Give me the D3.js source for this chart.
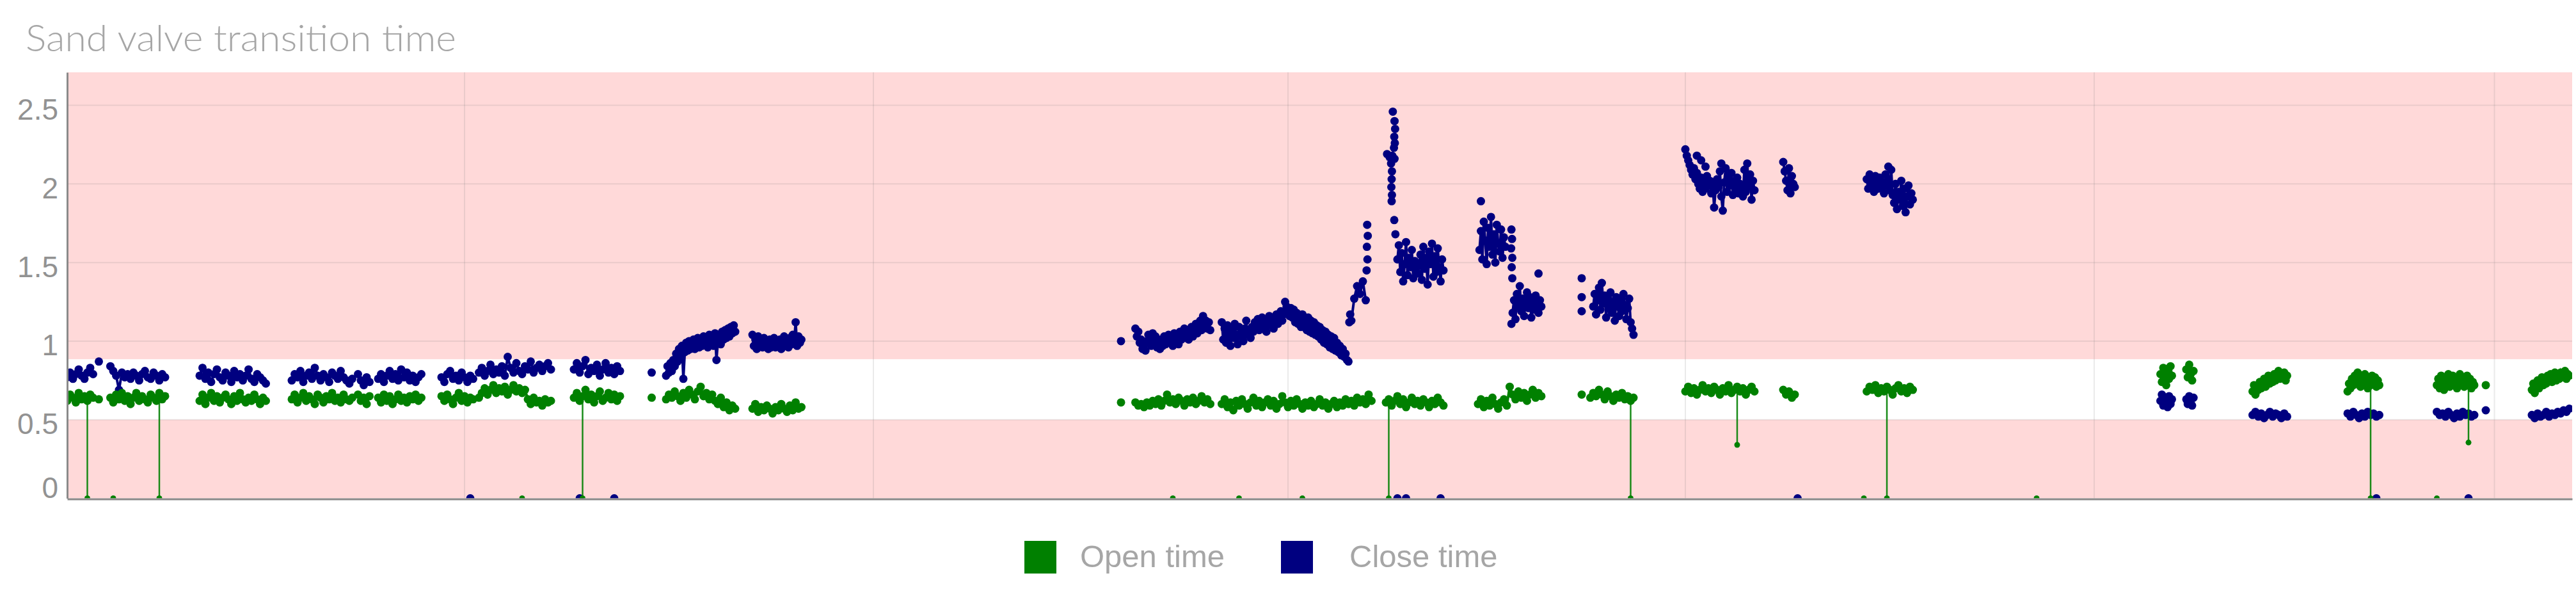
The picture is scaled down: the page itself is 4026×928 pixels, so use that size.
<!DOCTYPE html>
<html><head><meta charset="utf-8">
<script src="https://cdn.jsdelivr.net/npm/d3@7"></script>
<style>html,body{margin:0;padding:0;background:#fff;overflow:hidden}svg{display:block}</style>
</head><body>
<svg id="chart" width="4026" height="928"></svg>
<script>
// ---------------- data ----------------
const chartTitle = "Sand valve transition time";
const seriesNames = ["Open time", "Close time"];
const seriesColors = ["#008000", "#000080"];
const yTicks = [0, 0.5, 1, 1.5, 2, 2.5];
const yLabels = ["0", "0.5", "1", "1.5", "2", "2.5"];
const xTickHours = [138, 280, 424, 562, 704, 843];
const okBandLow = 0.5, okBandHigh = 0.885;
const hourRange = [0, 870];
const valueRange = [0, 2.71];

// runs of readings: [start hour, hours between readings, values]
const openRuns = [
  [0, 1, [0.62,0.66,0.64,0.61,0.67,0.63,0.65,0.62,0.66,0.64]],
  [15, 1, [0.64,0.61,0.66,0.63,0.67,0.62,0.65,0.60,0.64,0.67,0.62,0.65,0.63,0.61,0.66,0.64,0.62,0.67,0.63,0.65]],
  [46, 1, [0.62,0.66,0.60,0.64,0.67,0.62,0.65,0.61,0.64,0.66,0.63,0.60,0.65,0.62,0.67,0.63,0.61,0.64,0.62,0.66,0.63,0.60,0.64,0.62]],
  [78, 1, [0.63,0.66,0.61,0.64,0.67,0.62,0.65,0.63,0.60,0.66,0.64,0.61,0.65,0.63,0.67,0.62,0.64,0.61,0.66,0.63,0.62,0.64]],
  [101, 1, [0.66,0.62,0.64,0.60,0.65]],
  [108, 1, [0.64,0.61,0.66,0.62,0.65,0.60,0.63,0.66,0.62,0.64,0.61,0.65,0.63,0.66,0.62,0.64]],
  [130, 1, [0.65,0.62,0.66,0.63,0.60,0.64,0.67,0.62,0.65,0.61,0.64,0.63]],
  [143, 1, [0.64,0.67,0.70,0.66,0.69,0.72,0.67,0.70,0.68,0.71,0.66,0.69,0.72,0.68,0.70,0.67,0.69,0.63,0.60,0.64,0.61,0.62,0.59,0.63,0.61,0.62]],
  [176, 1, [0.64,0.67,0.62,0.65,0.69,0.63,0.66,0.61,0.65,0.68,0.62,0.64,0.67,0.63,0.66,0.62,0.65]],
  [208, 1, [0.63,0.66,0.64,0.68,0.65,0.62,0.67,0.64,0.69,0.66,0.63,0.68,0.71,0.65,0.67,0.63,0.66,0.62,0.60,0.64,0.58,0.61,0.56,0.59,0.57]],
  [238, 1, [0.57,0.60,0.55,0.58,0.56,0.59,0.57,0.54,0.58,0.56,0.60,0.57,0.55,0.59,0.56,0.61,0.57,0.58]],
  [371, 1, [0.61,0.59,0.60,0.58,0.61,0.59,0.62,0.60,0.63,0.59,0.62,0.66,0.61,0.63,0.60,0.64,0.62,0.59,0.63,0.61,0.64,0.60,0.62,0.65,0.61,0.63,0.60]],
  [401, 1, [0.60,0.63,0.58,0.61,0.56,0.62,0.59,0.63,0.60,0.57,0.61,
            0.64,0.59,0.62,0.58,0.61,0.63,0.59,0.62,0.57,0.60,0.65,0.61,
            0.58,0.62,0.59,0.63,0.60,0.57,0.61,0.59,0.62,0.58,0.60,0.63,
            0.59,0.61,0.57,0.60,0.62,0.58,0.61,0.59,0.63,0.60,0.62,0.59,
            0.64,0.61,0.63,0.60,0.66,0.62]],
  [458, 1, [0.61,0.63,0.59,0.62,0.65,0.60,0.63,0.58,0.61,0.64,0.60,0.62,0.59,0.63,0.61,0.58,0.62,0.60,0.64,0.61,0.59]],
  [490, 1, [0.60,0.63,0.58,0.62,0.59,0.64,0.60,0.57,0.61,0.63,0.59,0.71,0.66,0.63,0.68,0.64,0.67,0.62,0.66,0.69,0.64,0.67,0.65]],
  [529, 1, [0.64,0.67,0.65,0.69,0.66,0.63,0.68,0.65,0.62,0.66,0.64,0.67,0.63,0.65,0.62,0.64]],
  [562, 1, [0.68,0.71,0.67,0.70,0.66,0.69,0.72,0.68,0.70,0.67,0.71,0.69,0.66,0.70,0.68,0.72,0.67,0.69,0.71,0.68,0.70,0.66,0.69,0.71,0.68]],
  [596, 1, [0.69,0.66,0.68,0.64,0.66]],
  [625, 1, [0.68,0.71,0.69,0.72,0.67,0.70,0.68,0.71,0.69,0.66,0.70,0.72,0.68,0.70,0.67,0.71,0.69]],
  [727, 0.5, [0.79,0.74,0.83,0.77,0.72,0.81,0.76,0.84,0.78]],
  [736, 0.5, [0.82,0.77,0.85,0.79,0.75,0.81]],
  [759, 0.5, [0.68,0.72,0.66,0.71,0.69,0.74,0.70,0.73,0.76,0.71,0.75,0.78,0.73,0.77,0.74,0.79,0.75,0.78,0.81,0.76,0.79,0.77,0.80,0.75,0.78]],
  [792, 0.5, [0.68,0.73,0.70,0.76,0.72,0.78,0.74,0.80,0.75,0.71,0.77,0.73,0.79,0.74,0.70,0.76,0.72,0.78,0.73,0.77,0.71,0.75,0.72]],
  [823, 0.5, [0.72,0.76,0.70,0.78,0.74,0.69,0.77,0.73,0.79,0.71,0.75,0.78,0.72,0.76,0.70,0.74,0.79,0.73,0.77,0.71,0.75,0.78,0.72,0.76,0.70,0.74,0.72]],
  [856, 0.5, [0.69,0.73,0.67,0.72,0.75,0.70,0.74,0.77,0.72,0.76,0.73,0.78,0.75,0.79,0.74,0.77,0.80,0.75,0.78,0.76,0.80,0.77,0.79,0.81,0.76,0.79,0.78]]
];
const closeRuns = [
  [0, 1, [0.77,0.80,0.76,0.79,0.82,0.78,0.76,0.80,0.83,0.79]],
  [15, 1, [0.84,0.81,0.78,0.69,0.80,0.77,0.79,0.76,0.80,0.78,0.75,0.79,0.81,0.77,0.76,0.80,0.78,0.75,0.79,0.77]],
  [46, 1, [0.78,0.83,0.76,0.80,0.74,0.79,0.82,0.77,0.75,0.80,0.78,0.74,0.81,0.77,0.79,0.75,0.78,0.82,0.76,0.74,0.79,0.77,0.75,0.73]],
  [78, 1, [0.75,0.79,0.77,0.81,0.74,0.78,0.80,0.76,0.83,0.78,0.75,0.79,0.77,0.74,0.80,0.78,0.76,0.81,0.77,0.75,0.73,0.76]],
  [101, 1, [0.79,0.75,0.72,0.77,0.74]],
  [108, 1, [0.76,0.79,0.74,0.78,0.81,0.76,0.79,0.75,0.82,0.77,0.80,0.75,0.78,0.74,0.77,0.79]],
  [130, 1, [0.77,0.74,0.79,0.81,0.76,0.78,0.75,0.80,0.77,0.74,0.78,0.76]],
  [143, 1, [0.80,0.83,0.78,0.81,0.85,0.79,0.82,0.80,0.84,0.78,0.90,0.83,0.80,0.86,0.81,0.79,0.84,0.82,0.87,0.80,0.83,0.85,0.81,0.84,0.86,0.82]],
  [176, 1, [0.82,0.86,0.80,0.84,0.88,0.79,0.83,0.81,0.85,0.78,0.82,0.86,0.80,0.83,0.79,0.84,0.81]],
  [208, 0.5, [0.78,0.84,0.80,0.86,0.81,0.88,0.84,0.92,0.87,0.95, 0.89,0.97,0.76,0.93,0.99,0.94,1.00,0.95,0.98,1.01,
              0.95,0.99,1.02,0.96,1.00,0.97,1.03,0.98,1.01,0.96, 1.04,0.99,1.02,0.97,1.05,0.88,1.00,1.04,0.98,1.06,
              1.01,1.07,1.02,1.08,1.03,1.09,1.05,1.10,1.06]],
  [238, 0.5, [1.04,0.97,1.01,0.95,1.03,0.98,1.00,0.96,1.02,0.97,0.99,0.95,1.01,0.96,0.98,1.02,0.96,1.00,0.97,1.01,
              0.95,0.99,1.03,0.97,1.00,0.96,1.02,0.98,1.04,1.00,1.12,0.97,1.03,0.99,1.01]],
  [371, 0.5, [1.08,1.03,1.06,0.99,1.01,0.95,0.98,0.94,1.00,1.04,1.02,0.97,1.05,1.00,1.03,0.96,
              0.99,0.95,1.01,0.97,1.03,0.98,1.00,1.04,0.99,1.02, 0.97,1.05,1.00,1.03,0.98,1.06,1.01,1.04,1.08,1.02,
              1.06,1.01,1.04,1.09,1.03,1.07,1.11,1.05,1.09,1.13, 1.07,1.16,1.10,1.13,1.08,1.12,1.07]],
  [401, 0.5, [1.12,1.01,1.08,0.99,1.10,1.03,0.97,1.07,1.02,1.11, 1.04,0.98,1.09,1.03,1.06,1.00,1.08,1.13,1.04,1.07, 1.02,1.09,
              1.06,1.12,1.08,1.14,1.07,1.11,1.15,1.09,1.13,1.06, 1.12,1.16,1.10,1.14,1.08,1.13,1.17,1.11,1.15,1.19, 1.13,1.17,
              1.25,1.22,1.20,1.16,1.21,1.15,
              1.20,1.12,1.18,1.11,1.16,1.09,1.17,1.10,1.14,1.07, 1.15,1.06,1.13,1.05,1.12,1.04,1.10,1.03,
              1.09,1.01,1.07,0.99,1.06,0.98,1.04,0.96,1.03,0.95, 1.02,0.94,0.99,0.93,0.97,0.91,0.95,0.90,0.92,0.88, 0.87]],
  [446, 1, [1.13,1.27,1.35,1.30,1.38,1.26]],
  [462, 0.5, [1.52,1.61,1.44,1.56,1.38,1.49,1.63,1.42,1.53,1.47,1.58,1.40,1.51,1.45,1.43,1.48,
              1.55,1.39,1.60,1.46,1.53,1.36,1.57,1.49,1.62,1.41,1.54,1.44,1.59,1.47,1.38,1.52,1.45]],
  [490.5, 0.5, [1.58,1.70,1.52,1.76,1.64,1.49,1.72,1.60,1.79,1.55,1.68,1.50,1.74,1.62,1.57,1.71,1.53,1.66,1.60]],
  [502, 0.5, [1.18,1.26,1.14,1.30,1.22,1.35,1.19,1.27,1.16,1.24,1.31,1.21,1.28,1.15,1.25,1.20,1.29,1.23,1.18,1.26,1.22]],
  [530, 0.5, [1.22,1.30,1.17,1.26,1.34,1.20,1.37,1.24,1.29,1.15,1.27,1.21,1.31,1.18,1.25,1.13,1.28,1.22,1.16,1.26,1.19,1.30,1.23,1.14,1.21,1.27,1.12,1.08,1.04]],
  [562, 0.5, [2.22,2.18,2.15,2.12,2.09,2.06,2.10,2.03,2.07,2.00,1.97,2.04,1.95,2.01,1.97,2.05,1.99,2.02,1.94,2.00,
              1.85,1.96,2.03,1.98,2.08,1.92,1.83,2.01,2.10,1.95,2.05,1.99,2.07,1.93,2.02,1.97,2.04,1.94,2.00,1.96,
              1.92,2.09,1.95,2.13,1.98,2.06,1.90,2.02,1.96]],
  [596, 0.5, [2.14,2.08,2.02,1.96,2.10,1.94,2.05,2.00,1.98]],
  [625, 0.5, [2.03,1.97,2.06,1.99,2.02,1.95,2.05,2.00,1.97,2.04,1.98,2.01,1.94,2.06,1.99,2.03,1.96,2.09,1.93,1.88,
              2.00,1.84,1.95,1.90,2.02,1.86,1.97,1.82,1.92,1.99,1.87,1.94,1.90]],
  [727, 0.5, [0.62,0.66,0.59,0.64,0.61,0.58,0.65,0.60,0.63]],
  [736, 0.5, [0.63,0.60,0.65,0.61,0.59,0.64]],
  [759, 1, [0.53,0.55,0.52,0.54,0.51,0.53,0.55,0.52,0.54,0.53,0.51,0.54,0.52]],
  [792, 1, [0.54,0.52,0.55,0.53,0.51,0.54,0.52,0.55,0.53,0.54,0.52,0.53]],
  [823, 1, [0.55,0.53,0.54,0.52,0.55,0.53,0.51,0.54,0.52,0.55,0.53,0.54,0.52,0.53]],
  [856, 1, [0.53,0.51,0.54,0.52,0.53,0.55,0.52,0.54,0.53,0.55,0.54,0.56,0.55,0.57]]
];
// single readings outside the runs
const openSingleHours  = [11, 203, 366, 526, 840, 16, 158, 384, 407, 429, 624, 684, 823];
const openSingleValues = [0.63, 0.64, 0.61, 0.66, 0.72, 0, 0, 0, 0, 0, 0, 0, 0];
const closeSingleHours = [11, 203, 366, 840,
  445.3, 445.6, 451.3, 451.6, 451.4, 451.7, 451.5,
  460.4, 461.0, 461.2, 460.9, 461.1, 460.8, 458.4, 459.3, 460.2, 461.0, 459.8, 460.1, 460.0, 459.9, 460.1, 460.0, 460.9, 461.3,
  491, 501.6, 501.8, 501.5, 501.9, 501.7, 501.9, 501.6, 511,
  526, 526, 526, 566, 567.5, 569, 574.5, 632.5,
  140, 178, 190, 462, 465, 477, 601, 802, 834];
const closeSingleValues = [0.87, 0.80, 1.00, 0.56,
  1.12, 1.17, 1.45, 1.52, 1.60, 1.67, 1.74,
  2.46, 2.40, 2.35, 2.30, 2.26, 2.23, 2.19, 2.17, 2.18, 2.16, 2.13, 2.08, 2.03, 1.98, 1.93, 1.89, 1.77, 1.68,
  1.89, 1.71, 1.65, 1.59, 1.53, 1.47, 1.40, 1.11, 1.43,
  1.40, 1.28, 1.19, 2.18, 2.15, 2.11, 2.13, 2.11,
  0, 0, 0, 0, 0, 0, 0, 0, 0];
// open-time readings that fell out of the band, joined to their neighbours
const openDropHours  = [7, 32, 179, 459, 543, 580, 632, 800, 834];
const openDropValues = [0, 0, 0, 0, 0, 0.34, 0, 0, 0.355];

// ---------------- layout ----------------
const plot = {left: 105, right: 4020, top: 113, bottom: 778.5};
const pink = "rgba(255,0,0,0.15)";
const textGray = "#a6a6a6";
const R = 6.5;

const svg = d3.select("#chart");
const x = d3.scaleLinear().domain(hourRange).range([plot.left, plot.right]);
const y = d3.scaleLinear().domain(valueRange).range([plot.bottom, plot.top]);

function runPoints(runs) {
  return runs.map(([s, step, vals]) => vals.map((v, i) => ({h: s + i * step, v})));
}
const openRunPts = runPoints(openRuns);
const closeRunPts = runPoints(closeRuns);
const singles = (hours, values) => hours.map((h, i) => ({h, v: values[i]}));
const openPts = openRunPts.flat().concat(singles(openSingleHours, openSingleValues));
const closePts = closeRunPts.flat().concat(singles(closeSingleHours, closeSingleValues));
const dropPts = singles(openDropHours, openDropValues);
function nearestOpen(h) {
  let best = null, bd = Infinity;
  openPts.forEach(p => { if (p.v > okBandLow - 0.05) { const d = Math.abs(p.h - h); if (d < bd) { bd = d; best = p; } } });
  return best ? best.v : 0.6;
}
const line = d3.line().x(d => x(d.h)).y(d => y(d.v));

// title
svg.append("text")
  .attr("x", 40).attr("y", 80)
  .attr("font-family", "Lato, 'Open Sans', sans-serif")
  .attr("font-weight", 300)
  .attr("font-size", 57)
  .attr("fill", textGray)
  .attr("textLength", 673).attr("lengthAdjust", "spacingAndGlyphs")
  .text(chartTitle);

// background bands
const bg = svg.append("g");
bg.append("rect").attr("x", plot.left).attr("width", plot.right - plot.left)
  .attr("y", y(valueRange[1])).attr("height", y(okBandHigh) - y(valueRange[1])).attr("fill", pink);
bg.append("rect").attr("x", plot.left).attr("width", plot.right - plot.left)
  .attr("y", y(okBandLow)).attr("height", y(0) - y(okBandLow)).attr("fill", pink);

// grid
const grid = svg.append("g").attr("stroke", "#7a7a7a").attr("stroke-opacity", 0.16).attr("stroke-width", 2);
grid.selectAll(".hg").data(yTicks.filter(t => t > 0)).join("line")
  .attr("x1", plot.left).attr("x2", plot.right).attr("y1", d => y(d)).attr("y2", d => y(d));
grid.selectAll(".vg").data(xTickHours).join("line")
  .attr("x1", d => x(d)).attr("x2", d => x(d)).attr("y1", plot.top).attr("y2", plot.bottom);

// data
svg.append("clipPath").attr("id", "clip").append("rect")
  .attr("x", plot.left).attr("y", plot.top).attr("width", plot.right - plot.left).attr("height", plot.bottom - plot.top);
const dataG = svg.append("g").attr("clip-path", "url(#clip)");
// close time
dataG.append("g").selectAll("path").data(closeRunPts).join("path")
  .attr("d", line).attr("fill", "none").attr("stroke", seriesColors[1]).attr("stroke-width", 4);
dataG.append("g").selectAll("circle").data(closePts).join("circle")
  .attr("cx", d => x(d.h)).attr("cy", d => y(d.v)).attr("r", R).attr("fill", seriesColors[1]);
// open time
dataG.append("g").selectAll("line").data(dropPts).join("line")
  .attr("x1", d => x(d.h)).attr("x2", d => x(d.h))
  .attr("y1", d => y(nearestOpen(d.h))).attr("y2", d => y(d.v))
  .attr("stroke", seriesColors[0]).attr("stroke-width", 2.5).attr("stroke-opacity", 0.9);
dataG.append("g").selectAll("path").data(openRunPts).join("path")
  .attr("d", line).attr("fill", "none").attr("stroke", seriesColors[0]).attr("stroke-width", 4);
dataG.append("g").selectAll("circle").data(openPts).join("circle")
  .attr("cx", d => x(d.h)).attr("cy", d => y(d.v)).attr("r", d => d.v === 0 ? 4.5 : R).attr("fill", seriesColors[0]);
dataG.append("g").selectAll("circle").data(dropPts).join("circle")
  .attr("cx", d => x(d.h)).attr("cy", d => y(d.v)).attr("r", 4.5).attr("fill", seriesColors[0]);

// axes
const yAxis = svg.append("g").attr("transform", `translate(${plot.left},0)`)
  .call(d3.axisLeft(y).tickValues(yTicks).tickFormat((d, i) => yLabels[i]).tickSize(0).tickSizeOuter(0).tickPadding(14));
yAxis.select(".domain").attr("stroke", "#8a8a8a").attr("stroke-width", 3);
yAxis.selectAll("text")
  .attr("dy", null)
  .attr("y", d => Math.min(22, y(0) - y(d) - 1))
  .attr("font-family", "'Liberation Sans', Arial, sans-serif")
  .attr("font-size", 46).attr("fill", "#929292");

const xAxis = svg.append("g").attr("transform", `translate(0,${plot.bottom + 1})`)
  .call(d3.axisBottom(x).tickValues(xTickHours).tickFormat("").tickSize(0).tickSizeOuter(0));
xAxis.select(".domain").attr("stroke", "#8a8a8a").attr("stroke-width", 3);

// legend
const legendX = [1601, 2002];
const legendTextOffset = [87, 107];
const lg = svg.append("g");
seriesNames.forEach((name, i) => {
  lg.append("rect").attr("x", legendX[i]).attr("y", 845).attr("width", 50).attr("height", 51).attr("fill", seriesColors[i]);
  lg.append("text").attr("x", legendX[i] + legendTextOffset[i]).attr("y", 886)
    .attr("font-family", "'Liberation Sans', Arial, sans-serif").attr("font-size", 49)
    .attr("fill", textGray).text(name);
});
</script>
</body></html>
